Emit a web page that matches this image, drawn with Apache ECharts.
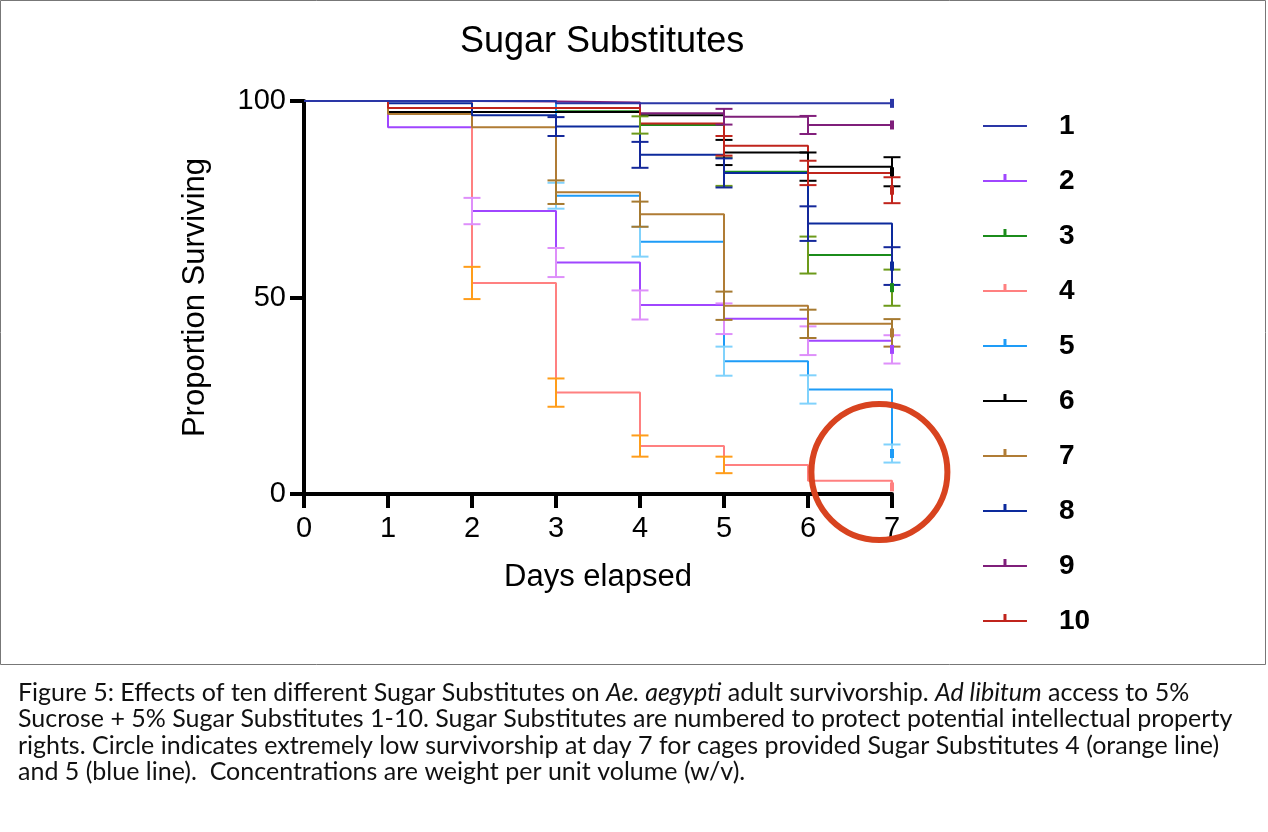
<!DOCTYPE html>
<html>
<head>
<meta charset="utf-8">
<title>Sugar Substitutes</title>
<script src="https://cdn.jsdelivr.net/npm/echarts@6/dist/echarts.min.js"></script>
<style>
    html, body { margin: 0; padding: 0; background: #fff; }
    #chart { width: 1268px; height: 832px; }
</style>
</head>
<body>
<div id="chart"></div>
<script>
// days on the x axis
const days = [0, 1, 2, 3, 4, 5, 6, 7]
const yTicks = [0, 50, 100]
const groupNames = ['1', '2', '3', '4', '5', '6', '7', '8', '9', '10']

// proportion surviving at each day (value after the drop on that day)
const surv1 = [100, 100, 100, 99.4, 99.4, 99.4, 99.4, 99.4]
const surv2 = [100, 93.3, 72.0, 58.9, 48.1, 44.6, 39.0, 36.8]
const surv3 = [100, 98.2, 98.2, 97.4, 93.9, 82.0, 60.8, 52.5]
const surv4 = [100, 100, 53.7, 25.8, 12.2, 7.4, 3.4, 1.8]
const surv5 = [100, 100, 100, 75.9, 64.2, 33.8, 26.6, 10.3]
const surv6 = [100, 97.2, 97.2, 97.2, 96.4, 86.9, 83.3, 82.0]
const surv7 = [100, 96.7, 93.3, 76.8, 71.2, 47.9, 43.3, 41.0]
const surv8 = [100, 99.4, 96.4, 93.5, 86.3, 81.7, 68.8, 58.0]
const surv9 = [100, 100, 99.9, 99.6, 96.9, 96.0, 93.9, 93.9]
const surv10 = [100, 98.2, 98.2, 98.2, 94.3, 88.6, 81.7, 77.3]

// standard error (half length of the bar), 0 = no bar drawn
const err1 = [0, 0, 0, 0, 0, 0, 0, 0]
const err2 = [0, 0, 3.35, 3.7, 3.7, 3.9, 3.65, 3.6]
const err3 = [0, 0, 0, 0, 2.2, 3.6, 4.7, 4.6]
const err4 = [0, 0, 4.1, 3.6, 2.7, 2.1, 0, 0]
const err5 = [0, 0, 0, 3.3, 3.8, 3.7, 3.6, 2.3]
const err6 = [0, 0, 0, 0, 0, 3.2, 3.6, 3.7]
const err7 = [0, 0, 0, 3.0, 3.2, 3.6, 3.6, 3.5]
const err8 = [0, 0, 0, 2.4, 3.3, 3.7, 4.4, 4.8]
const err9 = [0, 0, 0, 0, 0, 2.0, 2.3, 0]
const err10 = [0, 0, 0, 0, 0, 2.5, 3.1, 3.3]

const survival = [surv1, surv2, surv3, surv4, surv5, surv6, surv7, surv8, surv9, surv10]
const errors = [err1, err2, err3, err4, err5, err6, err7, err8, err9, err10]

const lineColors = ['#2a36a6', '#a046ff', '#1b8c1b', '#ff8080', '#1e9cf7', '#000000', '#b07c35', '#0c2a9c', '#7f1f7a', '#c0241c']
const errColors = ['#2a36a6', '#de8ffa', '#6c9a1a', '#ff9d1a', '#80d2fc', '#000000', '#a67a30', '#14289a', '#82207c', '#c0241c']

// red circle drawn round day 7 of groups 4 and 5
const circleCenter = [6.85, 5.6]

const font = 'Liberation Sans, Arial, sans-serif'

// legend icons: a line with a small censor tick (group 1 has none)
const iconTick = 'path://M0,9H44V11H0Z M20.5,3H23.5V10H20.5Z M22,17H22.01V17.01H22Z'
const iconPlain = 'path://M0,9H44V11H0Z M22,3H22.01V3.01H22Z M22,17H22.01V17.01H22Z'

function errorBar(color) {
    return function (params, api) {
        const x = api.value(0)
        const y = api.value(1)
        const e = api.value(2)
        const top = api.coord([x, y + e])
        const bottom = api.coord([x, y - e])
        const w = 8.5
        const style = { stroke: color, lineWidth: 2, fill: null }
        return {
            type: 'group',
            children: [
                { type: 'line', shape: { x1: top[0], y1: top[1], x2: bottom[0], y2: bottom[1] }, style },
                { type: 'line', shape: { x1: top[0] - w, y1: top[1], x2: top[0] + w, y2: top[1] }, style },
                { type: 'line', shape: { x1: bottom[0] - w, y1: bottom[1], x2: bottom[0] + w, y2: bottom[1] }, style }
            ]
        }
    }
}

function censorTick(color) {
    return function (params, api) {
        const p = api.coord([api.value(0), api.value(1)])
        return { type: 'rect', shape: { x: p[0] - 2, y: p[1] - 4.5, width: 4, height: 9 }, style: { fill: color } }
    }
}

const series = []
groupNames.forEach((name, i) => {
    series.push({
        name,
        type: 'line',
        step: 'end',
        symbol: 'none',
        showSymbol: false,
        color: lineColors[i],
        lineStyle: { width: 2, color: lineColors[i] },
        data: days.map((d, k) => [d, survival[i][k]]),
        // group 1 sits on top along the 100 line
        z: i === 0 ? 3 : 2
    })
})
groupNames.forEach((name, i) => {
    const pts = days.map((d, k) => [d, survival[i][k], errors[i][k]]).filter(p => p[2] > 0)
    series.push({
        name: name + ' se',
        type: 'custom',
        renderItem: errorBar(errColors[i]),
        encode: { x: 0, y: 1 },
        data: pts,
        z: 4
    })
    const last = days.length - 1
    series.push({
        name: name + ' censored',
        type: 'custom',
        renderItem: censorTick(lineColors[i]),
        encode: { x: 0, y: 1 },
        data: [[days[last], survival[i][last]]],
        z: 5
    })
})

const caption =
    '{n|Figure 5: Effects of ten different Sugar Substitutes on }{i|Ae. aegypti}{n| adult survivorship. }{i|Ad libitum}{n| access to 5%}\n' +
    '{n|Sucrose + 5% Sugar Substitutes 1-10. Sugar Substitutes are numbered to protect potential intellectual property}\n' +
    '{n|rights. Circle indicates extremely low survivorship at day 7 for cages provided Sugar Substitutes 4 (orange line)}\n' +
    '{n|and 5 (blue line).  Concentrations are weight per unit volume (w/v).}'

const chart = echarts.init(document.getElementById('chart'))
const option = {
    animation: false,
    backgroundColor: '#fff',
    title: {
        text: 'Sugar Substitutes',
        left: 455,
        top: 19,
        textStyle: { fontFamily: font, fontSize: 36, fontWeight: 'normal', color: '#000' }
    },
    legend: {
        orient: 'vertical',
        left: 983,
        top: 112,
        padding: 0,
        itemWidth: 44,
        itemHeight: 14,
        itemGap: 27,
        selectedMode: false,
        itemStyle: { borderWidth: 0 },
        textStyle: { fontFamily: font, fontSize: 28, fontWeight: 'bold', color: '#000', lineHeight: 28, padding: [0, 0, 0, 27] },
        data: groupNames.map((n, i) => ({ name: n, icon: i === 0 ? iconPlain : iconTick }))
    },
    grid: { left: 304, right: 376, top: 101, bottom: 338 },
    xAxis: {
        type: 'value',
        min: 0,
        max: 7,
        interval: 1,
        name: 'Days elapsed',
        nameLocation: 'middle',
        nameGap: 68,
        nameTextStyle: { fontFamily: font, fontSize: 31, color: '#000' },
        axisLine: { lineStyle: { color: '#000', width: 4 } },
        axisTick: { length: 14, lineStyle: { color: '#000', width: 4 } },
        axisLabel: { fontFamily: font, fontSize: 29, color: '#000', margin: 20 },
        splitLine: { show: false }
    },
    yAxis: {
        type: 'value',
        min: yTicks[0],
        max: yTicks[yTicks.length - 1],
        interval: yTicks[1] - yTicks[0],
        name: 'Proportion Surviving',
        nameLocation: 'middle',
        nameRotate: 90,
        nameGap: 93,
        nameTextStyle: { fontFamily: font, fontSize: 31, color: '#000' },
        axisLine: { show: true, lineStyle: { color: '#000', width: 4 } },
        axisTick: { show: true, length: 14, lineStyle: { color: '#000', width: 4 } },
        axisLabel: { fontFamily: font, fontSize: 29, color: '#000', margin: 18 },
        splitLine: { show: false }
    },
    series,
    graphic: [
        {
            id: 'frame',
            type: 'rect',
            silent: true,
            shape: { x: 0.5, y: 0.5, width: 1265, height: 664 },
            style: { fill: null, stroke: '#777', lineWidth: 1 }
        },
        {
            id: 'caption',
            type: 'text',
            left: 18,
            top: 680,
            style: {
                text: caption,
                fill: '#111',
                rich: {
                    n: { fontFamily: 'Lato', fontSize: 25, lineHeight: 26.5, fill: '#111' },
                    i: { fontFamily: 'Lato', fontSize: 25, lineHeight: 26.5, fontStyle: 'italic', fill: '#111' }
                }
            }
        }
    ]
}
chart.setOption(option)

// annotation circle placed through the grid's own scale
const c = chart.convertToPixel({ gridIndex: 0 }, circleCenter)
chart.setOption({
    graphic: [
        {
            id: 'circle',
            type: 'circle',
            silent: true,
            z: 100,
            shape: { cx: c[0], cy: c[1], r: 68 },
            style: { fill: null, stroke: '#d8431f', lineWidth: 6 }
        }
    ]
})
</script>
</body>
</html>
